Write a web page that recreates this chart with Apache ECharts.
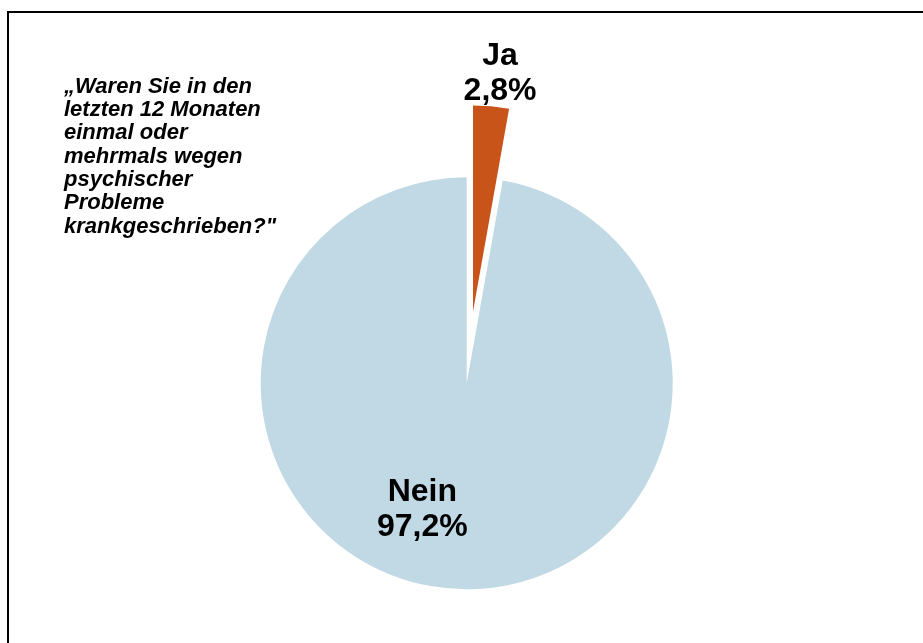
<!DOCTYPE html>
<html>
<head>
<meta charset="utf-8">
<script src="https://cdn.jsdelivr.net/npm/echarts@6/dist/echarts.min.js"></script>
<style>
  html, body { margin: 0; padding: 0; background: #ffffff; }
  #chart { width: 923px; height: 643px; }
</style>
</head>
<body>
<div id="chart"></div>
<script>
// Answer categories and their shares (percent)
const categories = ['Ja', 'Nein'];
const shares = [2.8, 97.2];
const shareLabels = ['2,8%', '97,2%'];
const sliceColors = ['#C9541A', '#C0D9E5'];
const questionLines = [
  '\u201EWaren Sie in den',
  'letzten 12 Monaten',
  'einmal oder',
  'mehrmals wegen',
  'psychischer',
  'Probleme',
  'krankgeschrieben?"'
];

const chart = echarts.init(document.getElementById('chart'), null, { renderer: 'canvas' });

const labelFont = {
  fontFamily: 'Liberation Sans, Arial, sans-serif',
  fontWeight: 'bold',
  fontSize: 32,
  lineHeight: 35,
  color: '#000000'
};

// label placement per slice, relative to the slice's inside anchor
const labelOffsets = [[9, -135], [-35, 21]];

const pieData = categories.map((name, i) => {
  const label = Object.assign({
    show: true,
    position: 'inside',
    offset: labelOffsets[i],
    formatter: name + '\n' + shareLabels[i]
  }, labelFont);
  return {
    name: name,
    value: shares[i],
    selected: i === 0,
    itemStyle: { color: sliceColors[i] },
    label: label,
    select: { label: Object.assign({}, label) }
  };
});

chart.setOption({
  backgroundColor: '#ffffff',
  animation: false,
  title: {
    text: questionLines.join('\n'),
    left: 64,
    top: 75,
    padding: 0,
    textStyle: {
      fontFamily: 'Liberation Sans, Arial, sans-serif',
      fontStyle: 'italic',
      fontWeight: 'bold',
      fontSize: 22,
      lineHeight: 23.3,
      color: '#000000'
    }
  },
  graphic: [{
    type: 'rect',
    silent: true,
    shape: { x: 8, y: 12, width: 1200, height: 1000 },
    style: { fill: 'none', stroke: '#000000', lineWidth: 2 }
  }],
  series: [{
    type: 'pie',
    center: [466.7, 383.3],
    radius: 206,
    startAngle: 90,
    clockwise: true,
    selectedMode: 'single',
    selectedOffset: 72,
    avoidLabelOverlap: false,
    labelLine: { show: false },
    emphasis: { disabled: true },
    itemStyle: { borderWidth: 0 },
    data: pieData
  }]
});
</script>
</body>
</html>
